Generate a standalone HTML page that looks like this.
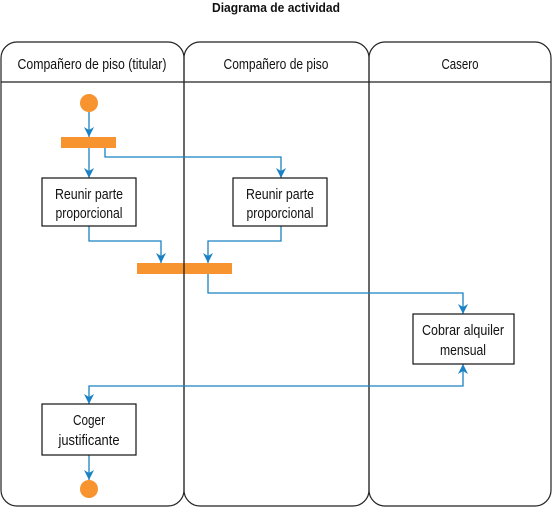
<!DOCTYPE html>
<html><head><meta charset="utf-8"><style>
html,body{margin:0;padding:0;background:#fff;}
svg text{font-family:"Liberation Sans Narrow","Liberation Sans",sans-serif;font-size:15px;fill:#111;text-anchor:middle;}
</style></head><body>
<svg width="552" height="507" viewBox="0 0 552 507" xmlns="http://www.w3.org/2000/svg">
<defs>
<marker id="d" markerWidth="10" markerHeight="10" refX="5" refY="10" orient="0" markerUnits="userSpaceOnUse" viewBox="0 0 10 10">
<path d="M0,0 L5,3 L10,0 L5,10 Z" fill="#1a82c4"/>
</marker>
<marker id="u" markerWidth="10" markerHeight="10" refX="5" refY="0" orient="0" markerUnits="userSpaceOnUse" viewBox="0 0 10 10">
<path d="M0,10 L5,7 L10,10 L5,0 Z" fill="#1a82c4"/>
</marker>
</defs>
<text x="276" y="12" textLength="128" lengthAdjust="spacingAndGlyphs" style="font-weight:bold;font-size:13px">Diagrama de actividad</text>
<circle cx="89" cy="103" r="9" fill="#f7942f"/>
<circle cx="89" cy="489" r="9" fill="#f7942f"/>
<rect x="61" y="137" width="55" height="11" fill="#f7942f"/>
<rect x="137" y="263" width="95" height="11" fill="#f7942f"/>
<g fill="none" stroke="#222" stroke-width="1.2">
<rect x="1" y="42" width="183" height="464" rx="16"/>
<rect x="184" y="42" width="185" height="464" rx="16"/>
<rect x="369" y="42" width="182" height="464" rx="16"/>
<line x1="1" y1="82" x2="551" y2="82"/>
</g>
<text x="92" y="69" textLength="149" lengthAdjust="spacingAndGlyphs">Compañero de piso (titular)</text>
<text x="276" y="69" textLength="105" lengthAdjust="spacingAndGlyphs">Compañero de piso</text>
<text x="460" y="69" textLength="37" lengthAdjust="spacingAndGlyphs">Casero</text>
<g fill="none" stroke="#1a82c4" stroke-width="1.3">
<path d="M89,112 V137" marker-end="url(#d)"/>
<path d="M89,148 V178" marker-end="url(#d)"/>
<path d="M105,148 V157 H281 V178" marker-end="url(#d)"/>
<path d="M89,226 V241 H161 V263" marker-end="url(#d)"/>
<path d="M281,226 V241 H208 V263" marker-end="url(#d)"/>
<path d="M208,274 V293 H463 V314" marker-end="url(#d)"/>
<path d="M463,364 V386 H89 V404" marker-start="url(#u)" marker-end="url(#d)"/>
<path d="M89,455 V480" marker-end="url(#d)"/>
</g>
<g fill="#fff" stroke="#111" stroke-width="1.2">
<rect x="42" y="178" width="94" height="48"/>
<rect x="233" y="178" width="94" height="48"/>
<rect x="413" y="314" width="101" height="50"/>
<rect x="42" y="404" width="94" height="51"/>
</g>
<text x="89" y="199" textLength="68" lengthAdjust="spacingAndGlyphs">Reunir parte</text><text x="89" y="218" textLength="67" lengthAdjust="spacingAndGlyphs">proporcional</text>
<text x="280" y="199" textLength="68" lengthAdjust="spacingAndGlyphs">Reunir parte</text><text x="280" y="218" textLength="67" lengthAdjust="spacingAndGlyphs">proporcional</text>
<text x="463" y="335" textLength="82" lengthAdjust="spacingAndGlyphs">Cobrar alquiler</text><text x="463" y="355" textLength="46" lengthAdjust="spacingAndGlyphs">mensual</text>
<text x="89" y="425" textLength="32" lengthAdjust="spacingAndGlyphs">Coger</text><text x="89" y="445" textLength="61" lengthAdjust="spacingAndGlyphs">justificante</text>
</svg>
</body></html>
